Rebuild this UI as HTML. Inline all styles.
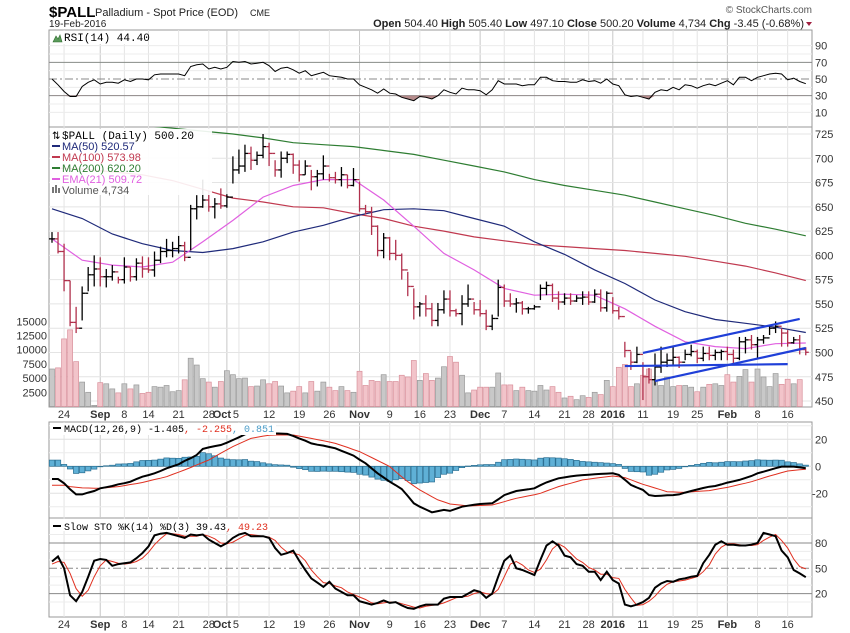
<!DOCTYPE html>
<html><head><meta charset="utf-8"><style>
html,body{margin:0;padding:0;background:#fff;}
svg{display:block;font-family:"Liberation Sans",sans-serif;}
.ax{font-size:11px;fill:#333;}
.mono{font-family:"Liberation Mono",monospace;}
</style></head><body>
<svg id="chart" width="850" height="633" viewBox="0 0 850 633" xmlns="http://www.w3.org/2000/svg">
<defs>
<clipPath id="cp"><rect x="49" y="127" width="763" height="280"/></clipPath>
<clipPath id="cr"><rect x="49" y="30" width="763" height="97"/></clipPath>
</defs>
<g>
<text x="49" y="17" font-size="15" font-weight="bold" fill="#000">$PALL</text>
<text x="95" y="16" font-size="11" fill="#222">Palladium - Spot Price (EOD)</text>
<text x="250" y="16" font-size="9" fill="#222">CME</text>
<text x="49" y="27" font-size="10" fill="#222">19-Feb-2016</text>
<text x="812" y="13" font-size="10" fill="#555" text-anchor="end">© StockCharts.com</text>
<text x="804" y="27" font-size="11" fill="#222" text-anchor="end"><tspan font-weight="bold">Open</tspan> 504.40  <tspan font-weight="bold">High</tspan> 505.40  <tspan font-weight="bold">Low</tspan> 497.10  <tspan font-weight="bold">Close</tspan> 500.20  <tspan font-weight="bold">Volume</tspan> 4,734  <tspan font-weight="bold">Chg</tspan> -3.45 (-0.68%)</text>
<path d="M806 22 L812 22 L809 26 Z" fill="#a02040"/>
</g>
<g id="grid"></g>
<g id="marks"></g>
<g id="labels"></g>
</svg>
<script>
// ---------- DATA ----------
const hi=[624,624,612,574,547,568,588,600,598,586,590,578,598,588,597,599,598,604,609,617,614,620,614,652,662,678,667,659,669,663,702,709,714,712,707,725,716,698,707,707,705,698,698,688,688,703,684,686,691,683,690,676,652,650,631,623,619,616,602,583,566,552,559,551,551,564,564,545,559,570,552,554,544,539,575,570,561,556,553,547,549,570,573,571,563,561,561,559,563,563,565,565,563,557,547,511,501,506,490,484,499,506,499,506,496,503,508,503,506,506,503,503,506,503,516,516,518,516,518,527,532,525,523,516,518,505.4];
const lo=[613,602,563,527,520,533,563,568,568,567,574,571,571,573,574,577,582,578,592,598,598,602,594,605,637,649,645,638,648,649,674,684,686,688,693,700,692,681,680,695,684,676,683,667,671,678,676,674,671,669,671,645,642,621,599,597,595,595,575,558,534,537,537,527,527,540,537,537,528,547,539,537,523,523,537,547,547,541,539,540,544,554,559,552,544,549,549,552,549,549,551,542,542,540,534,495,482,489,451,468,466,479,485,487,484,492,496,489,491,492,492,492,492,489,492,499,503,494,509,518,520,506,506,509,498,497.1];
const cl=[617,604,574,531,525,561,580,586,578,578,583,575,588,578,592,586,585,595,604,605,607,610,598,648,650,657,650,653,651,660,688,692,705,698,703,712,705,688,700,704,693,683,692,681,684,692,680,678,683,672,678,648,645,630,605,618,602,600,585,568,547,550,545,533,544,555,543,540,550,555,544,540,527,535,567,553,550,551,545,545,547,566,569,556,552,556,553,556,557,552,560,546,561,543,537,502,490,498,475,472,485,490,492,495,490,498,501,494,499,497,500,501,498,494,511,513,508,513,515,525,527,520,510,513,503,500.2];
const vol=[6600,6800,11900,13500,7900,4300,2500,200,4200,4000,3100,2400,4000,3100,3800,2300,2500,3500,3400,3700,2600,2800,4700,8500,7300,4900,4300,3400,4400,6300,5600,4900,5000,3500,3600,4700,4000,4400,3600,2400,2700,3500,2400,4400,2700,4300,3400,2800,3500,2800,2500,6200,3700,4600,4400,5600,4400,4400,5500,5200,8100,4600,5800,4600,5000,7000,8800,7800,5500,2400,2900,3400,3400,3400,5900,3800,3800,2800,3400,2800,2700,3700,2900,3500,2500,1500,1800,1200,1900,1600,2500,2100,4600,3500,6900,7400,3500,4000,5500,6600,4600,3700,5200,3500,3700,3700,3400,2600,3400,3900,4000,3700,5600,4300,5300,6500,4300,6600,5200,3500,5800,3900,4800,4000,4734];
const maIdx=[0,5,10,15,20,25,30,35,40,45,50,55,60,65,70,75,80,85,90,95,100,105,110,115,120,125];
const ma50=[648,638,622,612,605,603,607,614,624,631,640,647,648,646,638,630,614,601,585,571,554,542,534,530,526,520.57];
const ma100=[690,689,686,683,677,668,659,655,650,649,643,638,630,625,619,615,611,609,607,605,602,599,594,589,582,573.98];
const ma200=[745,741,737,734,731,728,725,721,716,714,712,708,704,698,692,686,678,672,667,662,655,648,641,633,627,620.2];
const ema21=[617,595,590,588,593,614,636,660,672,678,678,657,630,602,585,566,559,560,559,545,527,511,506,504,509,509.72];
const trendIdx=[[98,124],[100,125],[95,122]];
const trendPx=[[499.5,534.5],[470.6,504.6],[486,488]];
const rsi=[50,43,35,29,29,41,46,49,44,46,46,45,49,47,50,50,49,55,56,56,56,56,54,65,67,68,62,64,62,64,71,70,71,68,69,70,66,59,63,64,61,57,60,54,56,58,54,53,52,50,50,43,40,37,33,38,33,32,28,26,24,29,28,26,30,37,34,32,39,37,37,36,31,37,48,44,44,44,42,43,43,52,52,48,47,47,46,46,49,47,48,45,50,44,42,31,29,30,28,26,34,37,36,40,37,43,42,39,42,44,42,45,48,43,52,52,48,52,54,56,57,56,49,51,47,44.4];
const macd=[-9.4,-9.4,-12.6,-17,-20.8,-20.8,-19.5,-18.3,-16.3,-15.5,-14.6,-13.3,-12.5,-11.4,-9.5,-7.7,-6.5,-5.2,-3.5,-1.5,0,1.5,4,6,8.4,12.9,14,15,15.8,17.5,19.5,21.5,23.7,24.5,25,25,24.8,24.4,24.2,24,22.5,20.7,19,17,16,15.3,14.3,13.3,11.5,9.7,7.9,5,2.2,-1.5,-5.2,-8.3,-11.4,-14,-16.8,-22,-27.4,-29.9,-32,-34.1,-33.2,-32.3,-33,-31.5,-29.9,-29.2,-28.5,-27.9,-27.6,-27.4,-24.5,-21.3,-19.8,-18.3,-17.6,-17,-16.3,-14,-11.9,-10.4,-8.9,-8.2,-7.5,-6.9,-6.5,-6.2,-5.9,-5.6,-5.4,-5.2,-6.4,-10,-13.8,-15.7,-17.5,-21.3,-22,-21.8,-21.5,-21.3,-20.8,-19.5,-18.3,-17.2,-16.1,-15.1,-14.6,-13.4,-12.1,-11.1,-10.1,-8.6,-7.2,-5.2,-4,-2.7,-1.4,-0.2,-0.2,-0.2,-0.8,-1.405];
const signal=[-14,-14,-14,-15,-15.5,-16,-16.1,-16.2,-16.3,-15.9,-15.4,-15,-14.3,-13.5,-12.8,-12,-10.9,-9.8,-8.8,-7.7,-6,-4.4,-2.7,-0.9,1,2.8,4.7,7.2,9.7,12.2,14.6,16.7,18.7,20.7,21.5,22.4,23,23.2,23.2,23.2,23.2,22.4,21.5,20.7,19.8,18.9,18,17,15.5,14,12.4,10.9,8.7,6.5,4.3,2.1,-0.2,-4,-7.7,-11.4,-14.5,-17.5,-20,-22.5,-24.9,-26.4,-27.9,-28.4,-28.9,-29.4,-29.2,-29,-28.9,-28.7,-27.5,-26.2,-24.9,-23.7,-22.8,-21.9,-21,-20,-18.3,-16.7,-15,-13.8,-12.6,-11.3,-10.1,-9.5,-8.9,-8.3,-7.8,-7.2,-7.8,-8.4,-10,-11.7,-13.3,-14.7,-16.1,-17.4,-18.8,-19,-19.2,-19.3,-19,-18.6,-18.3,-18,-17.2,-16.4,-15.6,-14.6,-13.5,-12.5,-11.4,-10,-8.6,-7.2,-6,-4.7,-3.5,-3,-2.6,-2.255];
const stoK=[58,64,50,18,11,22,40,59,61,60,53,55,56,57,62,68,76,89,91,92,90,88,86,90,89,90,84,80,76,80,86,90,92,88,88,88,86,74,66,68,71,59,48,38,33,28,34,26,22,18,18,11,9,7,9,12,9,10,6,3,2,5,7,7,7,14,16,16,16,20,24,22,15,20,40,59,65,50,48,45,42,60,77,82,77,65,63,55,53,46,46,36,46,36,32,7,5,7,10,15,27,32,35,34,37,38,40,41,56,66,78,82,78,78,77,77,78,80,92,90,88,71,63,48,44,39.43];
const stoD=[55,58,57,44,26,17,24,40,53,60,58,56,55,56,58,62,69,78,85,91,91,90,88,88,88,90,88,85,80,79,81,85,89,90,89,88,87,83,75,69,68,66,59,48,40,33,32,29,27,22,19,16,13,9,8,9,10,10,8,6,4,3,5,6,7,9,12,15,16,17,20,22,20,19,25,40,55,58,54,48,45,49,60,73,79,75,68,61,57,51,48,43,43,39,38,25,15,6,7,11,17,25,31,34,35,36,38,40,46,54,67,75,79,79,78,77,77,78,83,87,90,83,74,61,52,49.23];
const dateLabels=["24","Sep","8","14","21","28","Oct","5","12","19","26","Nov","9","16","23","Dec","7","14","21","28","2016","11","19","25","Feb","8","16"];
const dateIdx=[2,8,12,16,21,26,29,31,36,41,46,51,56,61,66,71,75,80,85,89,93,98,103,107,112,117,122];
const priceTicks=[725,700,675,650,625,600,575,550,525,500,475,450];
const volTicks=[15000,12500,10000,7500,5000,2500];
const rsiTicks=[90,70,50,30,10];
const macdTicks=[20,0,-20];
const stoTicks=[80,50,20];

// ---------- SCALES ----------
const L=49,R=812;
const X=i=>52+6.03*i;
const PY=p=>134+(725-p)*0.971;
const VY=v=>406.5-v*0.00568;
const RY=r=>79-(r-50)*0.833;
const MY=m=>466.3-m*1.35;
const SY=s=>568.3-(s-50)*0.844;
const NS="http://www.w3.org/2000/svg";
const G=document.getElementById('grid'),M=document.getElementById('marks'),T=document.getElementById('labels');
function el(tag,attrs,parent){const e=document.createElementNS(NS,tag);for(const k in attrs)e.setAttribute(k,attrs[k]);parent.appendChild(e);return e;}
function txt(s,x,y,parent,extra){const e=el('text',Object.assign({x:x,y:y,class:'ax'},extra||{}),parent);e.textContent=s;return e;}
function line(x1,y1,x2,y2,stroke,w,parent,dash){const a={x1:x1,y1:y1,x2:x2,y2:y2,stroke:stroke,'stroke-width':w};if(dash)a['stroke-dasharray']=dash;return el('line',a,parent);}
function pts(idx,vals,fy){return idx.map((i,k)=>X(i).toFixed(1)+','+fy(vals[k]).toFixed(1)).join(' ');}
const allIdx=cl.map((_,i)=>i);

// ---------- PANELS / GRID ----------
const panels=[[30,127,'rsi-panel'],[127,407,'price-panel'],[422,518,'macd-panel'],[518,617,'sto-panel']];
panels.forEach(p=>{
  const r=el('rect',{x:L,y:p[0],width:R-L,height:p[1]-p[0],fill:'#fff',stroke:'#999','stroke-width':1},G);
  
  
});
dateIdx.forEach((i,k)=>{
  const month=isNaN(+dateLabels[k])||dateLabels[k]==='2016';
  [[30,127],[127,407],[422,518],[518,617]].forEach(s=>line(X(i),s[0],X(i),s[1],month?'#c8c8c8':'#e4e4e4',1,G));
});
priceTicks.forEach(p=>{line(L,PY(p),R,PY(p),'#e4e4e4',1,G);
  const t=txt(p,815,PY(p)+4,T);
  
  });
volTicks.forEach(v=>{const t=txt(v,47,VY(v)+4,T,{'text-anchor':'end'});
  
  });
[10,20,40,60,80,90].forEach(v=>line(L,RY(v),R,RY(v),'#ececec',1,G));
line(L,RY(70),R,RY(70),'#888',1,G);line(L,RY(30),R,RY(30),'#888',1,G);
line(L,RY(50),R,RY(50),'#888',1,G,'8,3,2,3');
rsiTicks.forEach(v=>{const t=txt(v,815,RY(v)+4,T);
  
  });
[30,10,-10,-30].forEach(v=>line(L,MY(v),R,MY(v),'#ececec',1,G));
macdTicks.forEach(v=>{line(L,MY(v),R,MY(v),'#e0e0e0',1,G);const t=txt(v,v<0?812:815,MY(v)+4,T);
  
  });
[10,30,40,60,70,90].forEach(v=>line(L,SY(v),R,SY(v),'#ececec',1,G));
line(L,SY(80),R,SY(80),'#888',1,G);line(L,SY(20),R,SY(20),'#888',1,G);
line(L,SY(50),R,SY(50),'#888',1,G,'8,3,2,3');
stoTicks.forEach(v=>{const t=txt(v,815,SY(v)+4,T);
  
  });
[414,624].forEach((yy,row)=>dateIdx.forEach((i,k)=>{
  const s=dateLabels[k];const bold=isNaN(+s)||s==='2016';
  let xx=X(i);if(s==='Oct')xx-=5;if(s==='5')xx-=3;
  const t=txt(s,xx,yy+4,T,{'text-anchor':'middle','font-weight':bold?'bold':'normal','font-size':bold?'12':'11'});
  
  
}));

// ---------- PRICE PANEL ----------
const pg=el('g',{'clip-path':'url(#cp)'},M);
vol.forEach((v,i)=>{const down=i>0&&cl[i]<cl[i-1];
  const r=el('rect',{x:X(i)-2.5,y:VY(v),width:5,height:406.5-VY(v),fill:down?'#f2c4ca':'#c8c8c8',stroke:down?'#d9919c':'#9a9a9a','stroke-width':0.7},pg);
  
  });
[[ma200,'#2e7d32','ma200-line'],[ma100,'#c0394f','ma100-line'],[ma50,'#1f2a7a','ma50-line'],[ema21,'#e060e0','ema21-line']].forEach(s=>{
  const p=el('polyline',{points:pts(maIdx,s[0],PY),fill:'none',stroke:s[1],'stroke-width':1.2},pg);
  
  });
cl.forEach((c,i)=>{const down=i>0&&c<cl[i-1];const col=down?'#b0304c':'#000';const o=i>0?cl[i-1]:c;
  const g=el('g',{stroke:col,'stroke-width':1.3},pg);
  
  
  line(X(i),PY(hi[i]),X(i),PY(lo[i]),col,1.3,g);
  line(X(i)-3,PY(o),X(i),PY(o),col,1.3,g);
  line(X(i),PY(c),X(i)+3,PY(c),col,1.3,g);});
trendIdx.forEach((t,k)=>{const l=line(X(t[0]),PY(trendPx[k][0]),X(t[1]),PY(trendPx[k][1]),'#1f3fd8',2.2,pg);
  
  });

// ---------- RSI ----------
const rg=el('g',{'clip-path':'url(#cr)'},M);
(function(){let d='';for(let i=0;i<rsi.length;i++){const v=Math.min(rsi[i],30);d+=(i?'L':'M')+X(i).toFixed(1)+','+RY(v).toFixed(1);}
  d+='L'+X(rsi.length-1)+','+RY(30)+'L'+X(0)+','+RY(30)+'Z';
  const p=el('path',{d:d,fill:'#a87878',opacity:0.85},rg);
  
  
  let d2='';for(let i=0;i<rsi.length;i++){const v=Math.max(rsi[i],70);d2+=(i?'L':'M')+X(i).toFixed(1)+','+RY(v).toFixed(1);}
  d2+='L'+X(rsi.length-1)+','+RY(70)+'L'+X(0)+','+RY(70)+'Z';
  const p2=el('path',{d:d2,fill:'#7fb07f',opacity:0.8},rg);
  
  })();
const rl=el('polyline',{points:pts(allIdx,rsi,RY),fill:'none',stroke:'#000','stroke-width':1},rg);



// ---------- MACD ----------
macd.forEach((m,i)=>{const h=m-signal[i];const y0=MY(0),y1=MY(h);
  const r=el('rect',{x:X(i)-2.7,y:Math.min(y0,y1),width:5.4,height:Math.max(0.5,Math.abs(y1-y0)),fill:'#5fb0d6',stroke:'#2b6f92','stroke-width':0.7},M);
  
  });
const sl=el('polyline',{points:pts(allIdx,signal,MY),fill:'none',stroke:'#e03020','stroke-width':1},M);


const ml=el('polyline',{points:pts(allIdx,macd,MY),fill:'none',stroke:'#000','stroke-width':2},M);



// ---------- STO ----------
const dl=el('polyline',{points:pts(allIdx,stoD,SY),fill:'none',stroke:'#e03020','stroke-width':1},M);


const kl=el('polyline',{points:pts(allIdx,stoK,SY),fill:'none',stroke:'#000','stroke-width':2},M);


</script>
<script>
(function(){
const NS="http://www.w3.org/2000/svg";const T=document.getElementById('labels');
function add(html){const g=document.createElementNS(NS,'g');g.innerHTML=html;T.appendChild(g);}
add('<rect x="51" y="31" width="95" height="13" fill="#fff"/>'+
 '<path d="M53 42 L56 36 L58 39 L60 35 L62 42 Z" fill="#5a9a5a" stroke="#2e6e2e" stroke-width="0.6"/>'+
 '<text x="64" y="41" class="mono" font-size="11" fill="#000">RSI(14) 44.40</text>');
add('<rect x="50" y="129" width="162" height="66" fill="#fff" opacity="0.9"/>'+
 '<text x="52" y="139" font-size="10" fill="#000">⇅</text>'+
 '<text x="62" y="139" class="mono" font-size="11" fill="#000">$PALL (Daily) 500.20</text>'+
 '<line x1="52" y1="146" x2="60" y2="146" stroke="#1f2a7a" stroke-width="2"/><text x="62" y="150" font-size="11" fill="#1f2a7a">MA(50) 520.57</text>'+
 '<line x1="52" y1="157" x2="60" y2="157" stroke="#c0394f" stroke-width="2"/><text x="62" y="161" font-size="11" fill="#c0394f">MA(100) 573.98</text>'+
 '<line x1="52" y1="168" x2="60" y2="168" stroke="#2e7d32" stroke-width="2"/><text x="62" y="172" font-size="11" fill="#2e7d32">MA(200) 620.20</text>'+
 '<line x1="52" y1="179" x2="60" y2="179" stroke="#e060e0" stroke-width="2"/><text x="62" y="183" font-size="11" fill="#e060e0">EMA(21) 509.72</text>'+
 '<rect x="52" y="187" width="2" height="6" fill="#777"/><rect x="55" y="185" width="2" height="8" fill="#777"/><rect x="58" y="188" width="2" height="5" fill="#777"/>'+
 '<text x="62" y="194" font-size="11" fill="#555">Volume 4,734</text>');
add('<rect x="50" y="423" width="226" height="12" fill="#fff"/>'+
 '<line x1="53" y1="428" x2="61" y2="428" stroke="#000" stroke-width="2"/>'+
 '<text x="64" y="432" class="mono" font-size="10" fill="#000">MACD(12,26,9) -1.405<tspan fill="#e03020">, -2.255</tspan><tspan fill="#4a9cc8">, 0.851</tspan></text>');
add('<rect x="50" y="519" width="230" height="12" fill="#fff"/>'+
 '<line x1="53" y1="526" x2="61" y2="526" stroke="#000" stroke-width="2"/>'+
 '<text x="64" y="530" class="mono" font-size="10" fill="#000">Slow STO %K(14) %D(3) 39.43<tspan fill="#e03020">, 49.23</tspan></text>');
})();
</script>
</body></html>
